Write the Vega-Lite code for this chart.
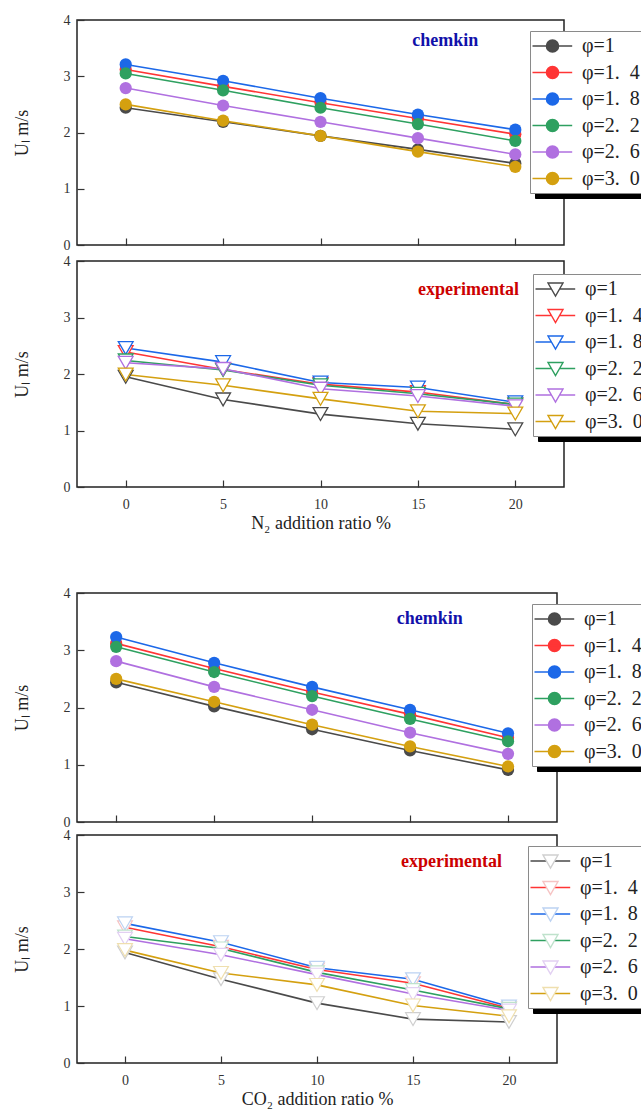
{
  "$schema": "https://vega.github.io/schema/vega-lite/v6.json",
  "padding": {"left": 12, "top": 12, "right": 0, "bottom": 0},
  "background": "white",
  "config": {
    "view": {"stroke": "#222222", "strokeWidth": 1.5},
    "font": "Liberation Serif",
    "axis": {"domain": false, "grid": false, "labelFont": "Liberation Serif", "labelFontSize": 14, "labelColor": "#333333", "tickColor": "#333333", "tickSize": -7, "tickWidth": 1.2, "titleFont": "Liberation Serif", "titleFontSize": 18, "titleFontWeight": "normal", "titleColor": "#222222", "format": "d"},
    "axisY": {"labelPadding": 14, "titlePadding": 32},
    "axisX": {"labelPadding": 17, "titlePadding": 3}
  },
  "datasets": {
    "n2chem": [
      {"ratio": 0, "phi": "φ=1", "u": 2.44}, {"ratio": 5, "phi": "φ=1", "u": 2.19}, {"ratio": 10, "phi": "φ=1", "u": 1.94}, {"ratio": 15, "phi": "φ=1", "u": 1.70}, {"ratio": 20, "phi": "φ=1", "u": 1.45},
      {"ratio": 0, "phi": "φ=1.\u20024", "u": 3.12}, {"ratio": 5, "phi": "φ=1.\u20024", "u": 2.82}, {"ratio": 10, "phi": "φ=1.\u20024", "u": 2.53}, {"ratio": 15, "phi": "φ=1.\u20024", "u": 2.25}, {"ratio": 20, "phi": "φ=1.\u20024", "u": 1.97},
      {"ratio": 0, "phi": "φ=1.\u20028", "u": 3.21}, {"ratio": 5, "phi": "φ=1.\u20028", "u": 2.92}, {"ratio": 10, "phi": "φ=1.\u20028", "u": 2.61}, {"ratio": 15, "phi": "φ=1.\u20028", "u": 2.32}, {"ratio": 20, "phi": "φ=1.\u20028", "u": 2.05},
      {"ratio": 0, "phi": "φ=2.\u20022", "u": 3.05}, {"ratio": 5, "phi": "φ=2.\u20022", "u": 2.75}, {"ratio": 10, "phi": "φ=2.\u20022", "u": 2.44}, {"ratio": 15, "phi": "φ=2.\u20022", "u": 2.15}, {"ratio": 20, "phi": "φ=2.\u20022", "u": 1.85},
      {"ratio": 0, "phi": "φ=2.\u20026", "u": 2.79}, {"ratio": 5, "phi": "φ=2.\u20026", "u": 2.48}, {"ratio": 10, "phi": "φ=2.\u20026", "u": 2.19}, {"ratio": 15, "phi": "φ=2.\u20026", "u": 1.90}, {"ratio": 20, "phi": "φ=2.\u20026", "u": 1.61},
      {"ratio": 0, "phi": "φ=3.\u20020", "u": 2.50}, {"ratio": 5, "phi": "φ=3.\u20020", "u": 2.21}, {"ratio": 10, "phi": "φ=3.\u20020", "u": 1.94}, {"ratio": 15, "phi": "φ=3.\u20020", "u": 1.66}, {"ratio": 20, "phi": "φ=3.\u20020", "u": 1.39}
    ],
    "n2exp": [
      {"ratio": 0, "phi": "φ=1", "u": 1.95}, {"ratio": 5, "phi": "φ=1", "u": 1.55}, {"ratio": 10, "phi": "φ=1", "u": 1.29}, {"ratio": 15, "phi": "φ=1", "u": 1.12}, {"ratio": 20, "phi": "φ=1", "u": 1.02},
      {"ratio": 0, "phi": "φ=1.\u20024", "u": 2.39}, {"ratio": 5, "phi": "φ=1.\u20024", "u": 2.08}, {"ratio": 10, "phi": "φ=1.\u20024", "u": 1.82}, {"ratio": 15, "phi": "φ=1.\u20024", "u": 1.68}, {"ratio": 20, "phi": "φ=1.\u20024", "u": 1.46},
      {"ratio": 0, "phi": "φ=1.\u20028", "u": 2.46}, {"ratio": 5, "phi": "φ=1.\u20028", "u": 2.21}, {"ratio": 10, "phi": "φ=1.\u20028", "u": 1.85}, {"ratio": 15, "phi": "φ=1.\u20028", "u": 1.76}, {"ratio": 20, "phi": "φ=1.\u20028", "u": 1.50},
      {"ratio": 0, "phi": "φ=2.\u20022", "u": 2.24}, {"ratio": 5, "phi": "φ=2.\u20022", "u": 2.07}, {"ratio": 10, "phi": "φ=2.\u20022", "u": 1.80}, {"ratio": 15, "phi": "φ=2.\u20022", "u": 1.65}, {"ratio": 20, "phi": "φ=2.\u20022", "u": 1.46},
      {"ratio": 0, "phi": "φ=2.\u20026", "u": 2.20}, {"ratio": 5, "phi": "φ=2.\u20026", "u": 2.09}, {"ratio": 10, "phi": "φ=2.\u20026", "u": 1.74}, {"ratio": 15, "phi": "φ=2.\u20026", "u": 1.61}, {"ratio": 20, "phi": "φ=2.\u20026", "u": 1.43},
      {"ratio": 0, "phi": "φ=3.\u20020", "u": 1.99}, {"ratio": 5, "phi": "φ=3.\u20020", "u": 1.80}, {"ratio": 10, "phi": "φ=3.\u20020", "u": 1.56}, {"ratio": 15, "phi": "φ=3.\u20020", "u": 1.34}, {"ratio": 20, "phi": "φ=3.\u20020", "u": 1.30}
    ],
    "co2chem": [
      {"ratio": 0, "phi": "φ=1", "u": 2.44}, {"ratio": 5, "phi": "φ=1", "u": 2.02}, {"ratio": 10, "phi": "φ=1", "u": 1.62}, {"ratio": 15, "phi": "φ=1", "u": 1.25}, {"ratio": 20, "phi": "φ=1", "u": 0.91},
      {"ratio": 0, "phi": "φ=1.\u20024", "u": 3.12}, {"ratio": 5, "phi": "φ=1.\u20024", "u": 2.68}, {"ratio": 10, "phi": "φ=1.\u20024", "u": 2.27}, {"ratio": 15, "phi": "φ=1.\u20024", "u": 1.88}, {"ratio": 20, "phi": "φ=1.\u20024", "u": 1.47},
      {"ratio": 0, "phi": "φ=1.\u20028", "u": 3.23}, {"ratio": 5, "phi": "φ=1.\u20028", "u": 2.78}, {"ratio": 10, "phi": "φ=1.\u20028", "u": 2.36}, {"ratio": 15, "phi": "φ=1.\u20028", "u": 1.96}, {"ratio": 20, "phi": "φ=1.\u20028", "u": 1.55},
      {"ratio": 0, "phi": "φ=2.\u20022", "u": 3.06}, {"ratio": 5, "phi": "φ=2.\u20022", "u": 2.62}, {"ratio": 10, "phi": "φ=2.\u20022", "u": 2.20}, {"ratio": 15, "phi": "φ=2.\u20022", "u": 1.80}, {"ratio": 20, "phi": "φ=2.\u20022", "u": 1.41},
      {"ratio": 0, "phi": "φ=2.\u20026", "u": 2.81}, {"ratio": 5, "phi": "φ=2.\u20026", "u": 2.36}, {"ratio": 10, "phi": "φ=2.\u20026", "u": 1.96}, {"ratio": 15, "phi": "φ=2.\u20026", "u": 1.56}, {"ratio": 20, "phi": "φ=2.\u20026", "u": 1.19},
      {"ratio": 0, "phi": "φ=3.\u20020", "u": 2.50}, {"ratio": 5, "phi": "φ=3.\u20020", "u": 2.10}, {"ratio": 10, "phi": "φ=3.\u20020", "u": 1.70}, {"ratio": 15, "phi": "φ=3.\u20020", "u": 1.32}, {"ratio": 20, "phi": "φ=3.\u20020", "u": 0.97}
    ],
    "co2exp": [
      {"ratio": 0, "phi": "φ=1", "u": 1.94}, {"ratio": 5, "phi": "φ=1", "u": 1.47}, {"ratio": 10, "phi": "φ=1", "u": 1.05}, {"ratio": 15, "phi": "φ=1", "u": 0.77}, {"ratio": 20, "phi": "φ=1", "u": 0.72},
      {"ratio": 0, "phi": "φ=1.\u20024", "u": 2.38}, {"ratio": 5, "phi": "φ=1.\u20024", "u": 2.04}, {"ratio": 10, "phi": "φ=1.\u20024", "u": 1.64}, {"ratio": 15, "phi": "φ=1.\u20024", "u": 1.40}, {"ratio": 20, "phi": "φ=1.\u20024", "u": 0.96},
      {"ratio": 0, "phi": "φ=1.\u20028", "u": 2.45}, {"ratio": 5, "phi": "φ=1.\u20028", "u": 2.12}, {"ratio": 10, "phi": "φ=1.\u20028", "u": 1.67}, {"ratio": 15, "phi": "φ=1.\u20028", "u": 1.47}, {"ratio": 20, "phi": "φ=1.\u20028", "u": 0.99},
      {"ratio": 0, "phi": "φ=2.\u20022", "u": 2.22}, {"ratio": 5, "phi": "φ=2.\u20022", "u": 2.01}, {"ratio": 10, "phi": "φ=2.\u20022", "u": 1.59}, {"ratio": 15, "phi": "φ=2.\u20022", "u": 1.28}, {"ratio": 20, "phi": "φ=2.\u20022", "u": 0.95},
      {"ratio": 0, "phi": "φ=2.\u20026", "u": 2.18}, {"ratio": 5, "phi": "φ=2.\u20026", "u": 1.90}, {"ratio": 10, "phi": "φ=2.\u20026", "u": 1.55}, {"ratio": 15, "phi": "φ=2.\u20026", "u": 1.21}, {"ratio": 20, "phi": "φ=2.\u20026", "u": 0.92},
      {"ratio": 0, "phi": "φ=3.\u20020", "u": 1.98}, {"ratio": 5, "phi": "φ=3.\u20020", "u": 1.58}, {"ratio": 10, "phi": "φ=3.\u20020", "u": 1.37}, {"ratio": 15, "phi": "φ=3.\u20020", "u": 1.01}, {"ratio": 20, "phi": "φ=3.\u20020", "u": 0.82}
    ],
    "entries": [{"e": "φ=1"}, {"e": "φ=1.\u20024"}, {"e": "φ=1.\u20028"}, {"e": "φ=2.\u20022"}, {"e": "φ=2.\u20026"}, {"e": "φ=3.\u20020"}]
  },
  "spacing": 52,
  "resolve": {"scale": {"color": "independent", "shape": "independent", "stroke": "independent", "x": "independent", "y": "independent"}, "legend": {"color": "independent", "shape": "independent", "stroke": "independent"}},
  "vconcat": [
    {
      "spacing": 0,
      "resolve": {"scale": {"color": "independent", "shape": "independent", "stroke": "independent", "x": "independent", "y": "independent"}, "legend": {"color": "independent", "shape": "independent", "stroke": "independent"}},
      "vconcat": [
        {
          "width": 487, "height": 225,
          "layer": [
            {
              "data": {"name": "n2chem"},
              "mark": {"type": "line", "strokeWidth": 1.6},
              "encoding": {
                "x": {"field": "ratio", "type": "quantitative", "scale": {"domain": [-2.5, 22.5], "nice": false, "zero": false}, "axis": {"values": [0, 5, 10, 15, 20], "labels": false, "title": null}},
                "y": {"field": "u", "type": "quantitative", "scale": {"domain": [0, 4], "nice": false}, "axis": {"values": [0, 1, 2, 3, 4], "title": "Uₗ m/s"}},
                "color": {"field": "phi", "type": "nominal", "scale": {"domain": ["φ=1", "φ=1.\u20024", "φ=1.\u20028", "φ=2.\u20022", "φ=2.\u20026", "φ=3.\u20020"], "range": ["#4a4a4a", "#ff3535", "#1c68e8", "#2ea060", "#b070e0", "#d4a010"]},
                  "legend": {"orient": "none", "legendX": 453, "legendY": 11, "title": null, "zindex": 1, "fillColor": "white", "strokeColor": "#8a8a8a", "padding": 4, "symbolType": "M -1.25 0 L 2.72 0 M 1.35 0 A 0.6 0.6 0 1 1 0.15 0 A 0.6 0.6 0 1 1 1.35 0 Z", "symbolSize": 400, "symbolStrokeWidth": 1.6, "labelFont": "Liberation Serif", "labelFontSize": 20, "labelColor": "#222222", "labelOffset": 26, "rowPadding": 5.5}}
              }
            },
            {
              "data": {"name": "n2chem"},
              "mark": {"type": "point", "filled": true, "size": 150, "opacity": 1},
              "encoding": {
                "x": {"field": "ratio", "type": "quantitative"},
                "y": {"field": "u", "type": "quantitative"},
                "color": {"field": "phi", "type": "nominal"}
              }
            },
            {
              "data": {"values": [{}]},
              "mark": {"type": "text", "font": "Liberation Serif", "fontWeight": "bold", "fontSize": 18, "color": "#1111aa"},
              "encoding": {"x": {"datum": 16.4, "type": "quantitative"}, "y": {"datum": 3.63, "type": "quantitative"}, "text": {"value": "chemkin"}}
            },
            {
              "data": {"name": "entries"},
              "mark": {"type": "point", "opacity": 0},
              "encoding": {"shape": {"field": "e", "type": "nominal", "sort": null,
                "legend": {"orient": "none", "legendX": 458, "legendY": 16, "title": null, "zindex": 0, "fillColor": "black", "strokeColor": "black", "padding": 4, "symbolType": "M -1.25 0 L 2.72 0 M 1.35 0 A 0.6 0.6 0 1 1 0.15 0 A 0.6 0.6 0 1 1 1.35 0 Z", "symbolSize": 400, "symbolStrokeWidth": 1.6, "symbolOpacity": 0, "labelFont": "Liberation Serif", "labelFontSize": 20, "labelColor": "black", "labelOffset": 26, "rowPadding": 5.5}}}
            }
          ]
        },
        {
          "width": 487, "height": 226,
          "layer": [
            {
              "data": {"name": "n2exp"},
              "mark": {"type": "line", "strokeWidth": 1.6},
              "encoding": {
                "x": {"field": "ratio", "type": "quantitative", "scale": {"domain": [-2.5, 22.5], "nice": false, "zero": false}, "axis": {"values": [0, 5, 10, 15, 20], "title": "N₂ addition ratio %"}},
                "y": {"field": "u", "type": "quantitative", "scale": {"domain": [0, 4], "nice": false}, "axis": {"values": [0, 1, 2, 3, 4], "title": "Uₗ m/s"}},
                "color": {"field": "phi", "type": "nominal", "scale": {"domain": ["φ=1", "φ=1.\u20024", "φ=1.\u20028", "φ=2.\u20022", "φ=2.\u20026", "φ=3.\u20020"], "range": ["#4a4a4a", "#ff3535", "#1c68e8", "#2ea060", "#b070e0", "#d4a010"]},
                  "legend": {"orient": "none", "legendX": 456, "legendY": 13, "title": null, "zindex": 1, "fillColor": "white", "strokeColor": "#8a8a8a", "padding": 4, "symbolType": "M -1.25 0 L 0.35 0 M 1.15 0 L 2.72 0 M 0 -0.6 L 1.5 -0.6 L 0.75 0.7 Z", "symbolSize": 400, "symbolStrokeWidth": 1.4, "symbolFillColor": "white", "labelFont": "Liberation Serif", "labelFontSize": 20, "labelColor": "#222222", "labelOffset": 26, "rowPadding": 5.5}}
              }
            },
            {
              "data": {"name": "n2exp"},
              "mark": {"type": "point", "shape": "triangle-down", "filled": false, "fill": "white", "fillOpacity": 1, "size": 220, "strokeWidth": 1.3, "opacity": 1},
              "encoding": {
                "x": {"field": "ratio", "type": "quantitative"},
                "y": {"field": "u", "type": "quantitative"},
                "color": {"field": "phi", "type": "nominal"}
              }
            },
            {
              "data": {"values": [{}]},
              "mark": {"type": "text", "font": "Liberation Serif", "fontWeight": "bold", "fontSize": 18, "color": "#cc0000"},
              "encoding": {"x": {"datum": 17.6, "type": "quantitative"}, "y": {"datum": 3.48, "type": "quantitative"}, "text": {"value": "experimental"}}
            },
            {
              "data": {"name": "entries"},
              "mark": {"type": "point", "opacity": 0},
              "encoding": {"shape": {"field": "e", "type": "nominal", "sort": null,
                "legend": {"orient": "none", "legendX": 461, "legendY": 18, "title": null, "zindex": 0, "fillColor": "black", "strokeColor": "black", "padding": 4, "symbolType": "M -1.25 0 L 0.35 0 M 1.15 0 L 2.72 0 M 0 -0.6 L 1.5 -0.6 L 0.75 0.7 Z", "symbolSize": 400, "symbolStrokeWidth": 1.4, "symbolOpacity": 0, "labelFont": "Liberation Serif", "labelFontSize": 20, "labelColor": "black", "labelOffset": 26, "rowPadding": 5.5}}}
            }
          ]
        }
      ]
    },
    {
      "spacing": -3,
      "resolve": {"scale": {"color": "independent", "shape": "independent", "stroke": "independent", "x": "independent", "y": "independent"}, "legend": {"color": "independent", "shape": "independent", "stroke": "independent"}},
      "vconcat": [
        {
          "width": 480, "height": 229,
          "layer": [
            {
              "data": {"name": "co2chem"},
              "mark": {"type": "line", "strokeWidth": 1.6},
              "encoding": {
                "x": {"field": "ratio", "type": "quantitative", "scale": {"domain": [-2, 22.5], "nice": false, "zero": false}, "axis": {"values": [0, 5, 10, 15, 20], "labels": false, "title": null}},
                "y": {"field": "u", "type": "quantitative", "scale": {"domain": [0, 4], "nice": false}, "axis": {"values": [0, 1, 2, 3, 4], "title": "Uₗ m/s"}},
                "color": {"field": "phi", "type": "nominal", "scale": {"domain": ["φ=1", "φ=1.\u20024", "φ=1.\u20028", "φ=2.\u20022", "φ=2.\u20026", "φ=3.\u20020"], "range": ["#4a4a4a", "#ff3535", "#1c68e8", "#2ea060", "#b070e0", "#d4a010"]},
                  "legend": {"orient": "none", "legendX": 455, "legendY": 11, "title": null, "zindex": 1, "fillColor": "white", "strokeColor": "#8a8a8a", "padding": 4, "symbolType": "M -1.25 0 L 2.72 0 M 1.35 0 A 0.6 0.6 0 1 1 0.15 0 A 0.6 0.6 0 1 1 1.35 0 Z", "symbolSize": 400, "symbolStrokeWidth": 1.6, "labelFont": "Liberation Serif", "labelFontSize": 20, "labelColor": "#222222", "labelOffset": 26, "rowPadding": 5.5}}
              }
            },
            {
              "data": {"name": "co2chem"},
              "mark": {"type": "point", "filled": true, "size": 150, "opacity": 1},
              "encoding": {
                "x": {"field": "ratio", "type": "quantitative"},
                "y": {"field": "u", "type": "quantitative"},
                "color": {"field": "phi", "type": "nominal"}
              }
            },
            {
              "data": {"values": [{}]},
              "mark": {"type": "text", "font": "Liberation Serif", "fontWeight": "bold", "fontSize": 18, "color": "#1111aa"},
              "encoding": {"x": {"datum": 16.0, "type": "quantitative"}, "y": {"datum": 3.55, "type": "quantitative"}, "text": {"value": "chemkin"}}
            },
            {
              "data": {"name": "entries"},
              "mark": {"type": "point", "opacity": 0},
              "encoding": {"shape": {"field": "e", "type": "nominal", "sort": null,
                "legend": {"orient": "none", "legendX": 460, "legendY": 16, "title": null, "zindex": 0, "fillColor": "black", "strokeColor": "black", "padding": 4, "symbolType": "M -1.25 0 L 2.72 0 M 1.35 0 A 0.6 0.6 0 1 1 0.15 0 A 0.6 0.6 0 1 1 1.35 0 Z", "symbolSize": 400, "symbolStrokeWidth": 1.6, "symbolOpacity": 0, "labelFont": "Liberation Serif", "labelFontSize": 20, "labelColor": "black", "labelOffset": 26, "rowPadding": 5.5}}}
            }
          ]
        },
        {
          "width": 480, "height": 228,
          "layer": [
            {
              "data": {"name": "co2exp"},
              "mark": {"type": "line", "strokeWidth": 1.6},
              "encoding": {
                "x": {"field": "ratio", "type": "quantitative", "scale": {"domain": [-2.5, 22.5], "nice": false, "zero": false}, "axis": {"values": [0, 5, 10, 15, 20], "title": "CO₂ addition ratio %"}},
                "y": {"field": "u", "type": "quantitative", "scale": {"domain": [0, 4], "nice": false}, "axis": {"values": [0, 1, 2, 3, 4], "title": "Uₗ m/s"}},
                "color": {"field": "phi", "type": "nominal", "scale": {"domain": ["φ=1", "φ=1.\u20024", "φ=1.\u20028", "φ=2.\u20022", "φ=2.\u20026", "φ=3.\u20020"], "range": ["#4a4a4a", "#ff3535", "#1c68e8", "#2ea060", "#b070e0", "#d4a010"]},
                  "legend": {"orient": "none", "legendX": 451, "legendY": 11, "title": null, "zindex": 1, "fillColor": "white", "strokeColor": "#8a8a8a", "padding": 4, "symbolType": "M -1.25 0 L 0.35 0 M 1.15 0 L 2.72 0", "symbolSize": 400, "symbolStrokeWidth": 1.4, "symbolFillColor": "white", "labelFont": "Liberation Serif", "labelFontSize": 20, "labelColor": "#222222", "labelOffset": 26, "rowPadding": 5.5}}
              }
            },
            {
              "data": {"name": "co2exp"},
              "mark": {"type": "point", "shape": "triangle-down", "fill": "white", "fillOpacity": 1, "size": 220, "strokeWidth": 1.2, "opacity": 1},
              "encoding": {
                "x": {"field": "ratio", "type": "quantitative"},
                "y": {"field": "u", "type": "quantitative"},
                "stroke": {"field": "phi", "type": "nominal", "scale": {"range": ["#cfcfcf", "#f6c4c4", "#bcd2f2", "#bfe2cc", "#e2d0f2", "#efdfae"]},
                  "legend": {"orient": "none", "legendX": 451, "legendY": 11, "title": null, "zindex": 2, "padding": 4, "symbolType": "M 0 -0.6 L 1.5 -0.6 L 0.75 0.7 Z", "symbolSize": 400, "symbolStrokeWidth": 1.4, "symbolFillColor": "white", "labelFont": "Liberation Serif", "labelFontSize": 20, "labelOpacity": 0, "labelOffset": 26, "rowPadding": 5.5}}
              }
            },
            {
              "data": {"values": [{}]},
              "mark": {"type": "text", "font": "Liberation Serif", "fontWeight": "bold", "fontSize": 18, "color": "#cc0000"},
              "encoding": {"x": {"datum": 17.0, "type": "quantitative"}, "y": {"datum": 3.53, "type": "quantitative"}, "text": {"value": "experimental"}}
            },
            {
              "data": {"name": "entries"},
              "mark": {"type": "point", "opacity": 0},
              "encoding": {"shape": {"field": "e", "type": "nominal", "sort": null,
                "legend": {"orient": "none", "legendX": 456, "legendY": 16, "title": null, "zindex": 0, "fillColor": "black", "strokeColor": "black", "padding": 4, "symbolType": "M -1.25 0 L 0.35 0 M 1.15 0 L 2.72 0 M 0 -0.6 L 1.5 -0.6 L 0.75 0.7 Z", "symbolSize": 400, "symbolStrokeWidth": 1.4, "symbolOpacity": 0, "labelFont": "Liberation Serif", "labelFontSize": 20, "labelColor": "black", "labelOffset": 26, "rowPadding": 5.5}}}
            }
          ]
        }
      ]
    }
  ]
}
